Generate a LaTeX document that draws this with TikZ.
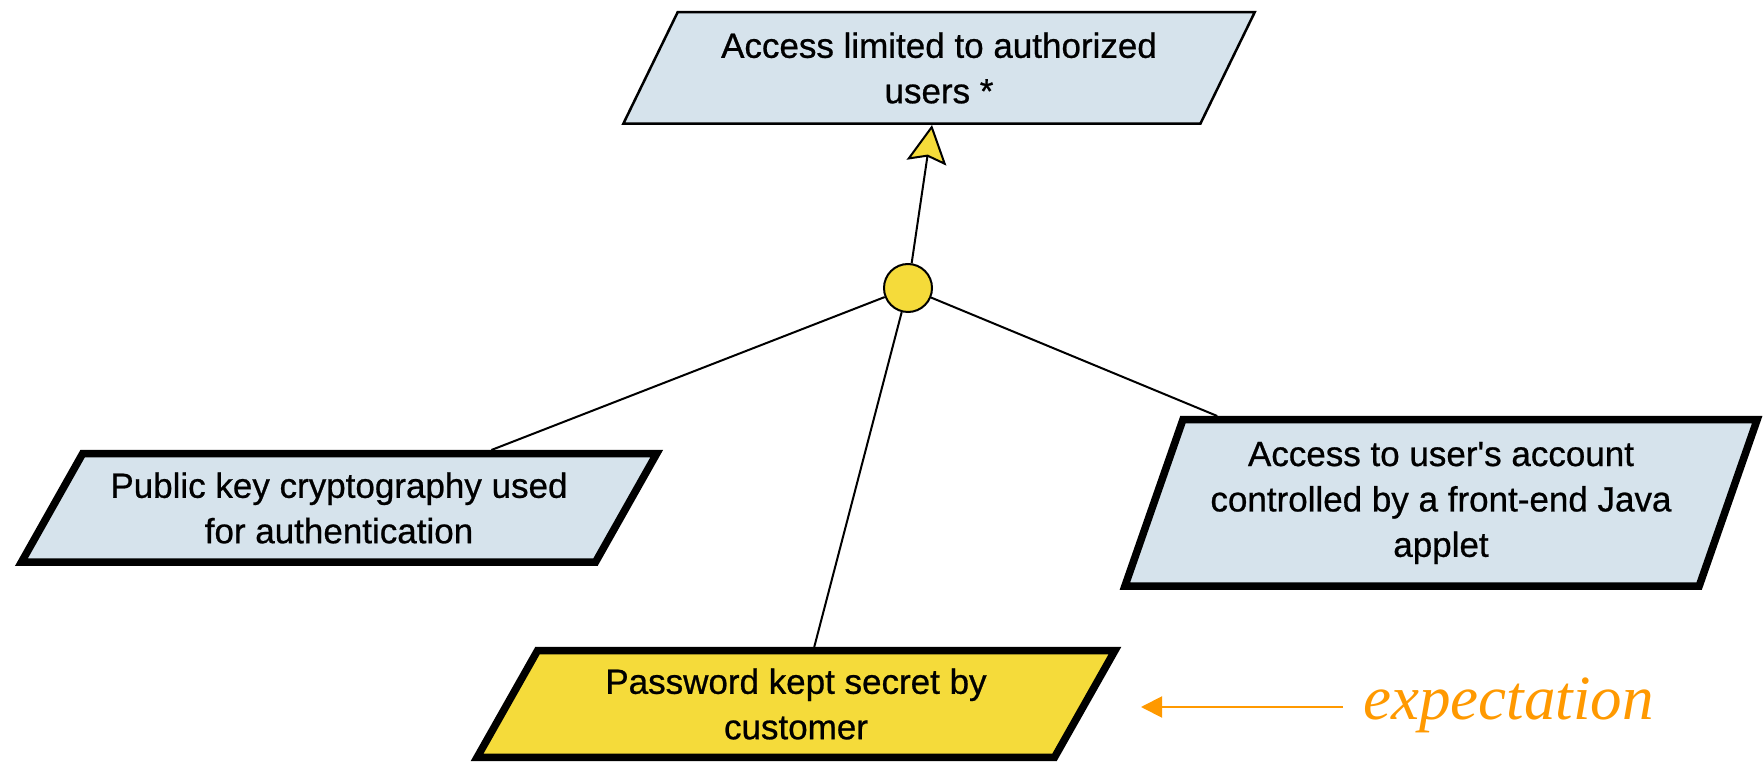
\documentclass[tikz,border=0pt]{standalone}
\usepackage{fontspec}
\setmainfont{Liberation Sans}
\newfontfamily\boxfont{Liberation Sans}[RawFeature={embolden=0.7}]
\newfontfamily\expfont{Liberation Serif}
\usepackage{tikz}
\definecolor{goalblue}{RGB}{214,227,236}
\definecolor{goalyellow}{RGB}{245,219,58}
\definecolor{exporange}{RGB}{255,153,0}
\tikzstyle{goal}=[trapezium, trapezium stretches=true, draw, fill=goalblue, align=center, inner sep=0pt, font=\boxfont\fontsize{17.5}{22.7}\selectfont]
\tikzstyle{leaf}=[goal, line width=3.75pt]
\tikzstyle{link}=[line width=1pt]
\tikzstyle{arrow}=[line width=1pt,-{Stealth[length=19pt,width=20pt,inset=3pt,fill=goalyellow]}]
\tikzstyle{exparrow}=[line width=1pt,exporange,-{Triangle[length=10.5pt,width=10.5pt]}]
\usetikzlibrary{shapes.geometric,arrows.meta,positioning,calc}

\begin{document}
\begin{tikzpicture}[x=0.5pt,y=-0.5pt,node distance=1cm,auto]
\useasboundingbox (0,0) rectangle (1763,764);
\node (top) [goal, line width=1.25pt, trapezium left angle=57.5, trapezium right angle=122.5, minimum width=317pt, minimum height=55.75pt] at (939,68) {Access limited to authorized\\users *};
\node (and) [circle, draw, line width=1pt, fill=goalyellow, minimum size=24pt, inner sep=0pt] at (908,288) {};
\node (pk) [leaf, trapezium left angle=52.5, trapezium right angle=127.5, minimum width=318.25pt, minimum height=54.25pt] at (339,508) {Public key cryptography used\\for authentication};
\node (java) [leaf, trapezium left angle=67, trapezium right angle=113, minimum width=316.25pt, minimum height=83.25pt] at (1441,503) {Access to user\textquotesingle s account\\controlled by a front-end Java\\applet};
\node (pw) [leaf, fill=goalyellow, trapezium left angle=58, trapezium right angle=122, minimum width=319.75pt, minimum height=53.25pt] at (796,704) {Password kept secret by\\customer};
\node (exp) [anchor=base west, inner sep=0pt, text=exporange, font=\expfont\itshape\fontsize{31.5}{31.5}\selectfont] at (1363,719) {expectation};
\coordinate (exptip) at (1141,707);
\draw[arrow] (and) -- ([xshift=-3.5pt]top.south);
\draw[link] (and) -- ([xshift=205.5pt]pk.top left corner);
\draw[link] (and) -- ([xshift=18.5pt]java.top left corner);
\draw[link] (and) -- ([xshift=139.5pt]pw.top left corner);
\draw[exparrow] ([xshift=-10pt]exp.west |- exptip) -- (exptip);
\end{tikzpicture}
\end{document}
